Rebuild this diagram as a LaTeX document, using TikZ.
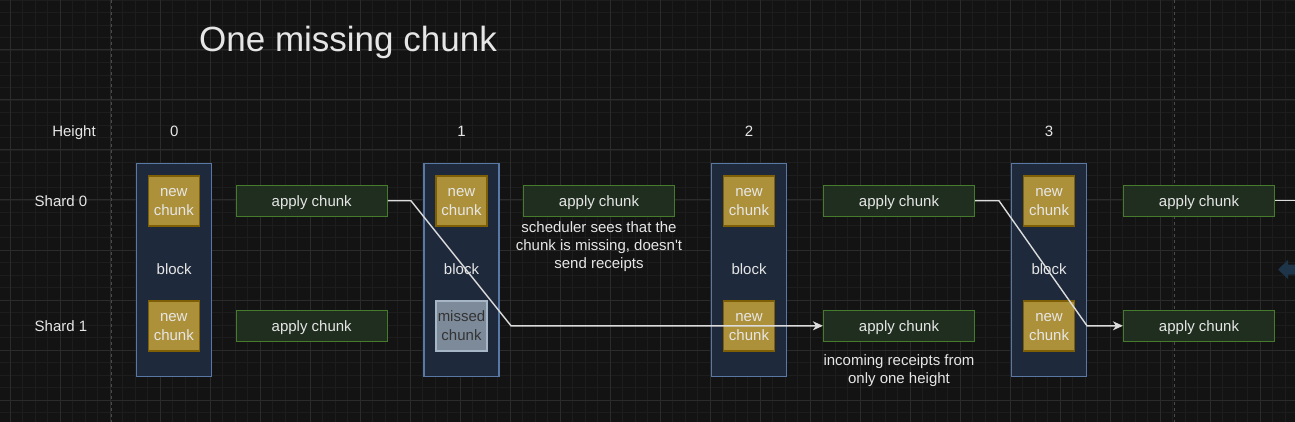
\documentclass[tikz,border=0pt]{standalone}
\usepackage{fontspec}
\setmainfont{Liberation Sans}
\usetikzlibrary{arrows.meta}
\definecolor{bg}{HTML}{131313}
\definecolor{gminor}{HTML}{1D1D1D}
\definecolor{gmajor}{HTML}{2B2B2B}
\definecolor{pagedash}{HTML}{4A4A4A}
\definecolor{blockfill}{HTML}{1E293B}
\definecolor{blockdraw}{HTML}{5A78A6}
\definecolor{goldfill}{HTML}{AD913A}
\definecolor{golddraw}{HTML}{7F5F05}
\definecolor{greenfill}{HTML}{1F2E1F}
\definecolor{greendraw}{HTML}{467A2C}
\definecolor{missfill}{HTML}{7C8A9A}
\definecolor{missdraw}{HTML}{A7B6C6}
\definecolor{txt}{HTML}{E6E6E6}
\definecolor{wire}{HTML}{DCDCDC}
\definecolor{navyarrow}{HTML}{1E3448}
\tikzset{
  lbl/.style={text=txt, font=\fontsize{15}{18}\selectfont, inner sep=0pt, align=center},
  blockbox/.style={draw=blockdraw, fill=blockfill, line width=1.2pt, minimum width=75pt, minimum height=213pt, inner sep=0pt, text=txt, font=\fontsize{15}{18}\selectfont, text height=9.2pt, text depth=0pt},
  chunkbox/.style={draw=golddraw, fill=goldfill, line width=1.2pt, minimum width=51pt, minimum height=50pt, inner sep=0pt, text=txt, align=center, font=\fontsize{15}{19}\selectfont, text height=29.4pt, text depth=0pt},
  missbox/.style={chunkbox, draw=missdraw, fill=missfill, text={black!80}},
  applybox/.style={draw=greendraw, fill=greenfill, line width=1.2pt, minimum width=151pt, minimum height=31pt, inner sep=0pt, text=txt, font=\fontsize{15}{18}\selectfont, text height=11.8pt, text depth=0pt},
  wireline/.style={draw=wire, line width=1.4pt},
  wirearrow/.style={wireline, -{Stealth[length=10pt,width=9pt,inset=3pt]}},
}
\begin{document}
\begin{tikzpicture}[x=1pt,y=-1pt]
\useasboundingbox (0,0) rectangle (1295,422);
\fill[bg] (0,0) rectangle (1295,422);
% grid
\foreach \i in {-1,...,103} {\draw[gminor, line width=0.8pt] ({10+12.5*\i},0) -- ({10+12.5*\i},422);}
\foreach \j in {0,...,34} {\draw[gminor, line width=0.8pt] (0,{12.5*\j}) -- (1295,{12.5*\j});}
\foreach \i in {0,...,25} {\draw[gmajor, line width=1pt] ({10+50*\i},0) -- ({10+50*\i},422);}
\foreach \j in {0,...,8} {\draw[gmajor, line width=1pt] (0,{50*\j}) -- (1295,{50*\j});}
\draw[pagedash, line width=1pt, dash pattern=on 3pt off 3pt] (111,0) -- (111,422);
\draw[pagedash, line width=1pt, dash pattern=on 3pt off 3pt] (1174.5,0) -- (1174.5,422);
% partial arrow shape at right edge
\fill[navyarrow] (1278,269.5) -- (1288,260) -- (1288,264.5) -- (1296,264.5) -- (1296,274.5) -- (1288,274.5) -- (1288,279) -- cycle;

% title and labels
\node[lbl, font=\fontsize{35}{42}\selectfont, anchor=base west] (title) at (199,51.7) {One missing chunk};
\node[lbl, anchor=base] (hlabel) at (74,137) {Height};
\node[lbl, anchor=base] (s0label) at (61,206.5) {Shard 0};
\node[lbl, anchor=base] (s1label) at (61,331.5) {Shard 1};
\node[lbl, anchor=base] (h0) at (174.2,137) {0};
\node[lbl, anchor=base] (h1) at (461.5,137) {1};
\node[lbl, anchor=base] (h2) at (749,137) {2};
\node[lbl, anchor=base] (h3) at (1049,137) {3};

% blocks
\node[blockbox] (b0) at (174.2,269.7) {block};
\node[blockbox] (b1) at (461.5,269.7) {block};
\node[blockbox] (b2) at (749,269.7) {block};
\node[blockbox] (b3) at (1049,269.7) {block};

% chunks
\node[chunkbox] (c00) at (173.8,201) {new\\chunk};
\node[chunkbox] (c01) at (173.8,326) {new\\chunk};
\node[chunkbox] (c10) at (461.5,201) {new\\chunk};
\node[missbox]  (c11) at (461.5,326) {missed\\chunk};
\node[chunkbox] (c20) at (749,201) {new\\chunk};
\node[chunkbox] (c21) at (749,326) {new\\chunk};
\node[chunkbox] (c30) at (1049,201) {new\\chunk};
\node[chunkbox] (c31) at (1049,326) {new\\chunk};

% apply chunk boxes
\node[applybox] (a0t) at (311.7,200.8) {apply chunk};
\node[applybox] (a0b) at (311.7,325.8) {apply chunk};
\node[applybox] (a1t) at (599,200.8) {apply chunk};
\node[applybox] (a2t) at (899,200.8) {apply chunk};
\node[applybox] (a2b) at (899,325.8) {apply chunk};
\node[applybox] (a3t) at (1199,200.8) {apply chunk};
\node[applybox] (a3b) at (1199,325.8) {apply chunk};

% notes
\node[lbl] (note1) at (599,246.2) {scheduler sees that the\\chunk is missing, doesn\textquotesingle t\\send receipts};
\node[lbl] (note2) at (899,370.6) {incoming receipts from\\only one height};

% connectors
\coordinate (k1) at (411,200.8);
\coordinate (k2) at (511,325.8);
\coordinate (k3) at (999,200.8);
\coordinate (k4) at (1087,325.8);
\coordinate (offright) at (1297,200.8);
\draw[wirearrow] (a0t.east) -- (k1) -- (k2) -- (a2b.west);
\draw[wirearrow] (a2t.east) -- (k3) -- (k4) -- (a3b.west);
\draw[wireline] (a3t.east) -- (offright);
\end{tikzpicture}
\end{document}
